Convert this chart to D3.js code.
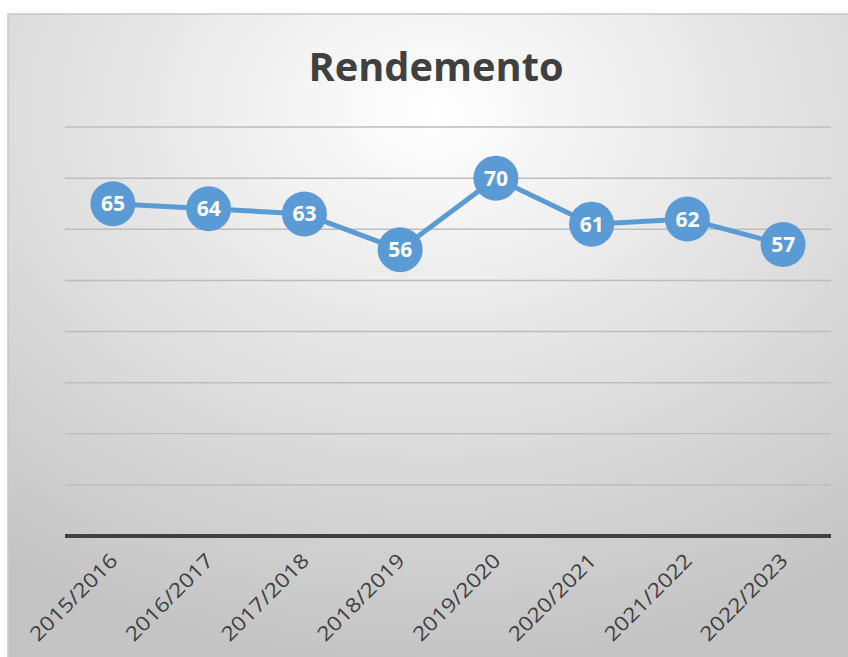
<!DOCTYPE html>
<html>
<head>
<meta charset="utf-8">
<script src="https://cdn.jsdelivr.net/npm/d3@7"></script>
<style>
  body { margin: 0; background: #fff; }
  svg { display: block; }
</style>
</head>
<body>
<div class="chart"></div>
<script>
var categories = ["2015/2016", "2016/2017", "2017/2018", "2018/2019", "2019/2020", "2020/2021", "2021/2022", "2022/2023"];
var values = [65, 64, 63, 56, 70, 61, 62, 57];
var yTicks = [0, 10, 20, 30, 40, 50, 60, 70, 80];
var title = "Rendemento";

var width = 848, height = 657;
var plot = {left: 65, right: 831, top: 127, bottom: 536};

var svg = d3.select(".chart").append("svg")
    .attr("width", width)
    .attr("height", height);

// background gradient like the excel chart area
var defs = svg.append("defs");
var grad = defs.append("radialGradient")
    .attr("id", "bg")
    .attr("cx", "50%").attr("cy", "15%").attr("r", "85%");
grad.append("stop").attr("offset", "0%").attr("stop-color", "#ffffff");
grad.append("stop").attr("offset", "100%").attr("stop-color", "#c4c4c4");

svg.append("rect")
    .attr("x", 8).attr("y", 14)
    .attr("width", 850).attr("height", 650)
    .attr("fill", "url(#bg)")
    .attr("stroke", "#c8c8c8")
    .attr("stroke-width", 1.5);

var x = d3.scaleBand()
    .domain(categories)
    .range([plot.left, plot.right]);

var y = d3.scaleLinear()
    .domain([0, 80])
    .range([plot.bottom, plot.top]);

// gridlines
svg.append("g")
  .selectAll("line")
  .data(yTicks.slice(1))
  .enter().append("line")
    .attr("x1", plot.left).attr("x2", plot.right)
    .attr("y1", function(d){ return y(d); })
    .attr("y2", function(d){ return y(d); })
    .attr("stroke", "#bdbdbd")
    .attr("stroke-width", 1.5);

// baseline
svg.append("line")
    .attr("x1", plot.left).attr("x2", plot.right)
    .attr("y1", y(0)).attr("y2", y(0))
    .attr("stroke", "#404040")
    .attr("stroke-width", 4);

// title
svg.append("text")
    .attr("x", 436).attr("y", 81)
    .attr("text-anchor", "middle")
    .attr("font-family", "'Open Sans', sans-serif")
    .attr("font-weight", "bold")
    .attr("font-size", 40)
    .attr("textLength", 255)
    .attr("lengthAdjust", "spacingAndGlyphs")
    .attr("fill", "#404040")
    .text(title);

// x labels
svg.append("g")
  .selectAll("text")
  .data(categories)
  .enter().append("text")
    .attr("transform", function(d){
      return "translate(" + (x(d) + x.bandwidth() / 2 + 6) + "," + 562 + ") rotate(-45)";
    })
    .attr("text-anchor", "end")
    .attr("font-family", "'Open Sans', sans-serif")
    .attr("font-size", 20)
    .attr("textLength", 114)
    .attr("lengthAdjust", "spacingAndGlyphs")
    .attr("fill", "#404040")
    .text(function(d){ return d; });

var pts = categories.map(function(c, i){ return {c: c, v: values[i]}; });

var line = d3.line()
    .x(function(d){ return x(d.c) + x.bandwidth() / 2; })
    .y(function(d){ return y(d.v); });

svg.append("path")
    .datum(pts)
    .attr("d", line)
    .attr("fill", "none")
    .attr("stroke", "#5b9bd5")
    .attr("stroke-width", 5);

var dots = svg.append("g")
  .selectAll("g")
  .data(pts)
  .enter().append("g")
    .attr("transform", function(d){
      return "translate(" + (x(d.c) + x.bandwidth() / 2) + "," + y(d.v) + ")";
    });

dots.append("circle")
    .attr("r", 22.5)
    .attr("fill", "#5b9bd5");

dots.append("text")
    .attr("text-anchor", "middle")
    .attr("dy", "0.36em")
    .attr("font-family", "'Open Sans', sans-serif")
    .attr("font-weight", "bold")
    .attr("font-size", 21)
    .attr("fill", "#ffffff")
    .text(function(d){ return d.v; });
</script>
</body>
</html>
